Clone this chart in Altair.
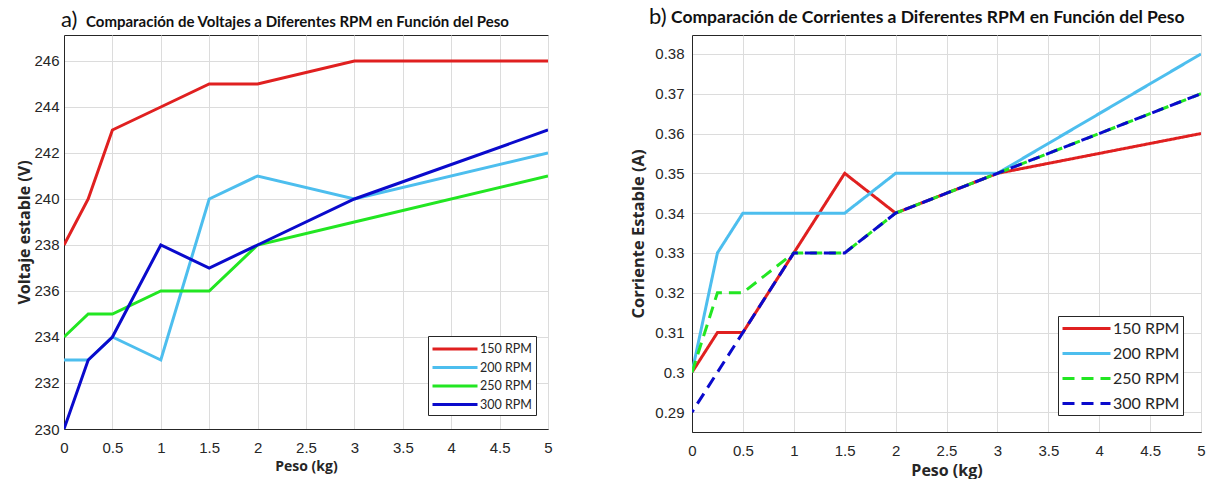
import altair as alt
import pandas as pd

peso = [0, 0.25, 0.5, 1, 1.5, 2, 3, 5]
series = ["150 RPM", "200 RPM", "250 RPM", "300 RPM"]
colors = ["#E02020", "#4DBEEE", "#22E622", "#0A0ACC"]

volt_150 = [238, 240, 243, 244, 245, 245, 246, 246]
volt_200 = [233, 233, 234, 233, 240, 241, 240, 242]
volt_250 = [234, 235, 235, 236, 236, 238, 239, 241]
volt_300 = [230, 233, 234, 238, 237, 238, 240, 243]

corr_150 = [0.30, 0.31, 0.31, 0.33, 0.35, 0.34, 0.35, 0.36]
corr_200 = [0.30, 0.33, 0.34, 0.34, 0.34, 0.35, 0.35, 0.38]
corr_250 = [0.30, 0.32, 0.32, 0.33, 0.33, 0.34, 0.35, 0.37]
corr_300 = [0.29, 0.30, 0.31, 0.33, 0.33, 0.34, 0.35, 0.37]

x_ticks = [0, 0.5, 1, 1.5, 2, 2.5, 3, 3.5, 4, 4.5, 5]
v_ticks = [230, 232, 234, 236, 238, 240, 242, 244, 246]
c_ticks = [0.29, 0.30, 0.31, 0.32, 0.33, 0.34, 0.35, 0.36, 0.37, 0.38]

tag_a = "a)"
tag_b = "b)"
title_a = "Comparación de Voltajes a Diferentes RPM en Función del Peso"
title_b = "Comparación de Corrientes a Diferentes RPM en Función del Peso"


def long_df(vals):
    rows = []
    for s, v in zip(series, vals):
        for p, y in zip(peso, v):
            rows.append({"peso": p, "valor": y, "serie": s})
    return pd.DataFrame(rows)


dfv = long_df([volt_150, volt_200, volt_250, volt_300])
dfc = long_df([corr_150, corr_200, corr_250, corr_300])

axis_common = dict(
    grid=True, gridColor="#DCDCDC", domainColor="#262626", ticks=False,
    labelColor="#262626", labelFont="Liberation Sans", labelFontSize=15,
    titleColor="#262626", titleFont="Open Sans", titleFontWeight="bold",
    labelFlush=False,
)

LINE_SYMBOL = "M-3,0L3,0"


def text_layer(txt, size, weight, x, y):
    return alt.Chart(pd.DataFrame({"t": [txt]})).mark_text(
        font="Lato", fontSize=size, fontWeight=weight, color="#111111",
        align="left", baseline="alphabetic",
    ).encode(text="t:N", x=alt.value(x), y=alt.value(y))


# ---------- left panel ----------
xl = alt.X("peso:Q", scale=alt.Scale(domain=[0, 5], nice=False),
           axis=alt.Axis(values=x_ticks, title="Peso (kg)", titleFontSize=14, format="~g",
                         labelPadding=11, titlePadding=4, **axis_common))
yl = alt.Y("valor:Q", scale=alt.Scale(domain=[230, 247.13], nice=False),
           axis=alt.Axis(values=v_ticks, title="Voltaje estable (V)", titleFontSize=16,
                         labelPadding=5, titlePadding=1, **axis_common))
cl = alt.Color("serie:N", scale=alt.Scale(domain=series, range=colors),
               legend=alt.Legend(title=None, orient="none", legendX=364, legendY=301,
                                 symbolType=LINE_SYMBOL, symbolStrokeWidth=3, symbolSize=225,
                                 symbolOffset=14,
                                 labelFont="Lato", labelFontSize=12.5, labelColor="#262626",
                                 strokeColor="#262626", fillColor="white", padding=4,
                                 rowPadding=2.5, labelOffset=16, labelLimit=200,
                                 columnPadding=0))

left_lines = alt.Chart(dfv).mark_line(strokeWidth=3, clip=True).encode(x=xl, y=yl, color=cl)
left = alt.layer(
    left_lines,
    text_layer(tag_a, 22, "normal", -3, -8),
    text_layer(title_a, 15, "bold", 22, -8),
).properties(width=484, height=394)

# ---------- right panel ----------
xr = alt.X("peso:Q", scale=alt.Scale(domain=[0, 5], nice=False),
           axis=alt.Axis(values=x_ticks, title="Peso (kg)", titleFontSize=16, format="~g",
                         labelPadding=11, titlePadding=4, **axis_common))
yr = alt.Y("valor:Q", scale=alt.Scale(domain=[0.285, 0.38476], nice=False),
           axis=alt.Axis(values=c_ticks, title="Corriente Estable (A)", titleFontSize=16.5,
                         format="~g", labelPadding=8, titlePadding=8, **axis_common))
cr = alt.Color("serie:N", scale=alt.Scale(domain=series, range=colors),
               legend=alt.Legend(title=None, orient="none", legendX=366, legendY=281,
                                 symbolType=LINE_SYMBOL, symbolStrokeWidth=3, symbolSize=256,
                                 symbolOffset=16,
                                 labelFont="Lato", labelFontSize=16, labelColor="#262626",
                                 strokeColor="#262626", fillColor="white", padding=3,
                                 rowPadding=7, labelOffset=17))
dr = alt.StrokeDash("serie:N", scale=alt.Scale(domain=series,
                                               range=[[1, 0], [1, 0], [12, 7], [12, 7]]))

layers = []
for s in series:
    extra = {"strokeDashOffset": 9} if s == "300 RPM" else {}
    layers.append(
        alt.Chart(dfc).transform_filter(alt.datum.serie == s)
        .mark_line(strokeWidth=3, clip=True, **extra)
        .encode(x=xr, y=yr, color=cr, strokeDash=dr)
    )
right = alt.layer(
    *layers,
    text_layer(tag_b, 22, "normal", -43, -11),
    text_layer(title_b, 17.5, "bold", -21, -12),
).properties(width=509, height=397)

chart = alt.hconcat(left, right, spacing=77).resolve_scale(
    color="independent", strokeDash="independent"
).properties(
    padding={"left": 16, "top": 5, "right": 10, "bottom": 0},
    background="white",
).configure_view(stroke="#262626", strokeWidth=1)

chart.save("out.html", embed_options={"renderer": "svg", "actions": False})
